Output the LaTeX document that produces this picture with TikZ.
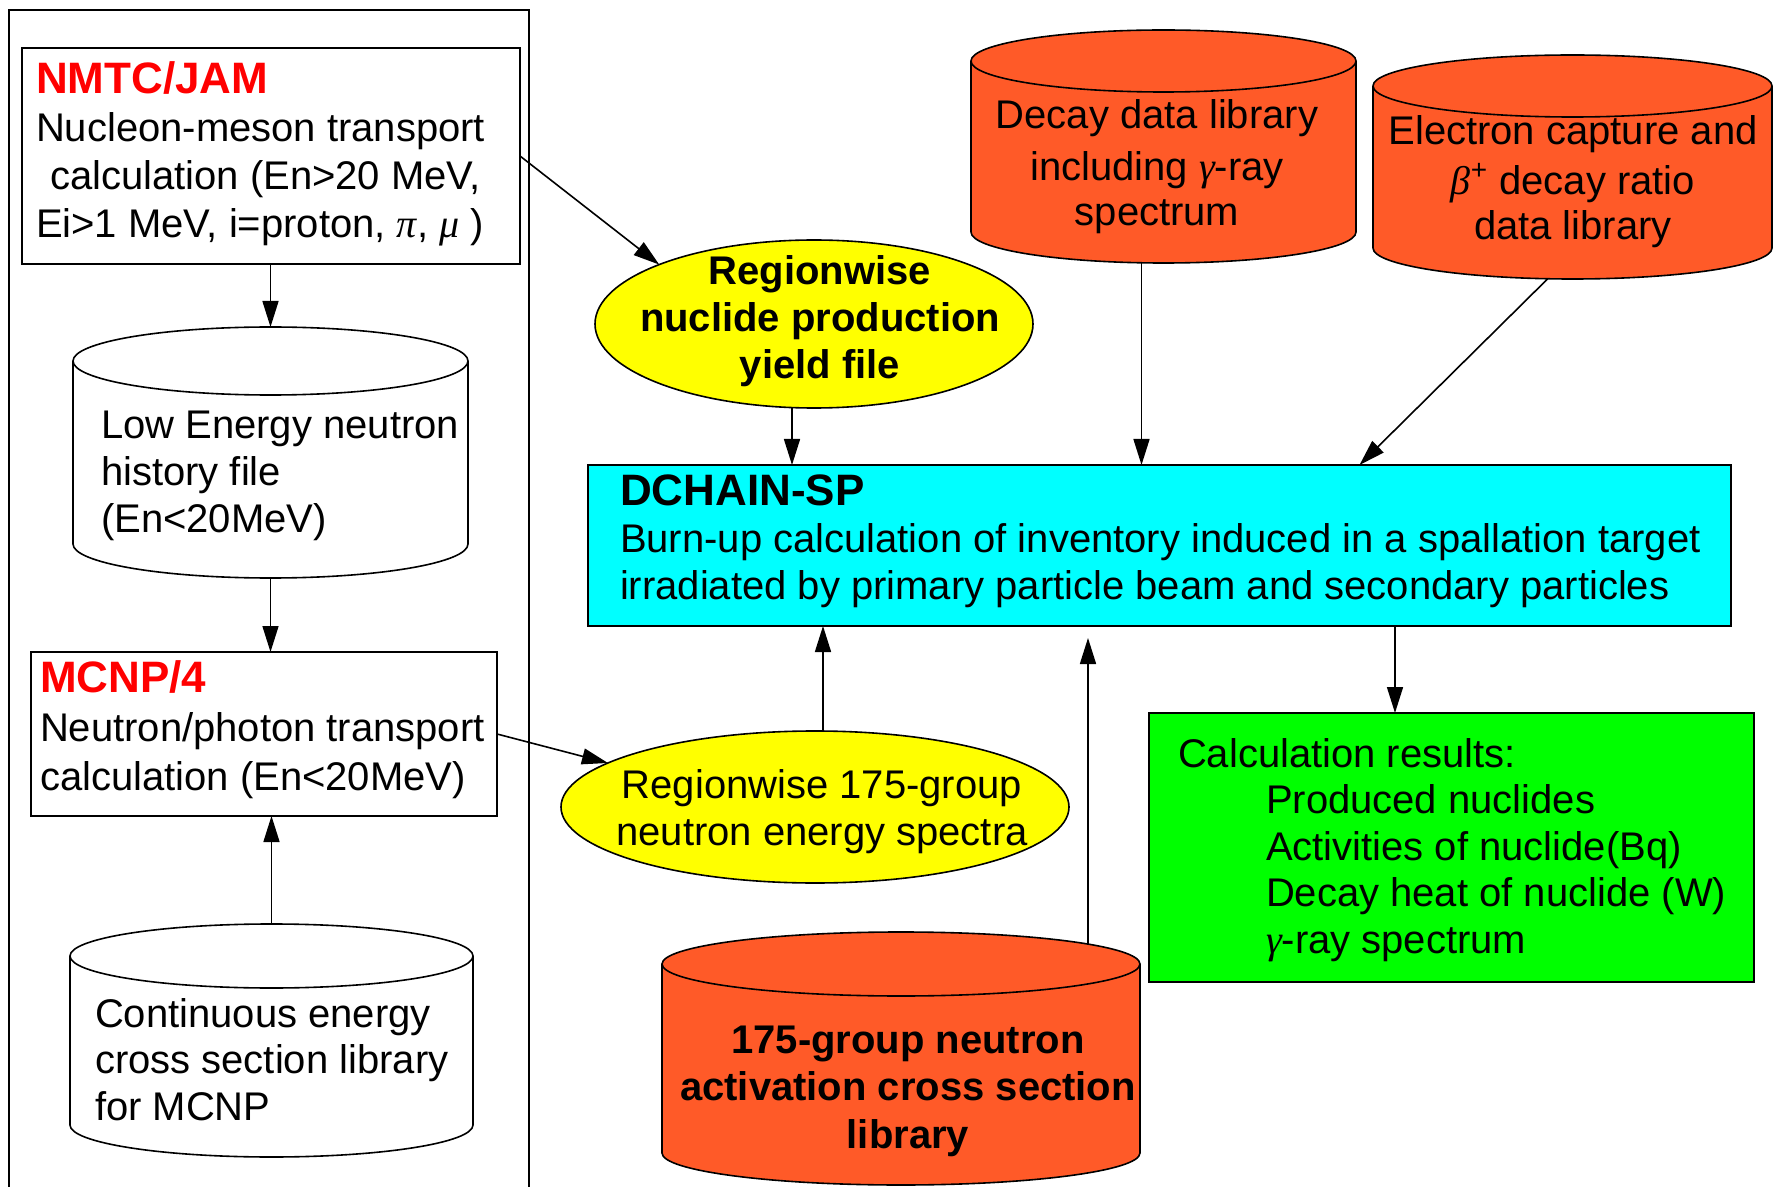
\documentclass[tikz,border=0pt]{standalone}
\usepackage{fontspec}
\setmainfont{Liberation Sans}
\newfontfamily\grkfont{Liberation Serif}
\newcommand\grk[1]{{\grkfont\itshape #1}}
\usetikzlibrary{shapes.geometric,arrows.meta,backgrounds,calc}
\definecolor{cylorange}{RGB}{255,90,40}
\definecolor{dcyan}{RGB}{0,255,255}
\definecolor{rgreen}{RGB}{0,255,0}
\definecolor{eyellow}{RGB}{255,255,0}
\definecolor{tred}{RGB}{255,0,0}
\newcommand\drawcyl[3]{%
  \path[cylline, fill=#3] let \p1=(#1.north west), \p2=(#1.south east) in
    (\x1,{\y1-#2}) -- (\x1,{\y2+#2})
    arc[start angle=180, end angle=360, x radius={(\x2-\x1)/2}, y radius=#2]
    -- (\x2,{\y1-#2})
    arc[start angle=0, end angle=180, x radius={(\x2-\x1)/2}, y radius=#2] -- cycle
    (\x1,{\y1-#2}) arc[start angle=180, end angle=360, x radius={(\x2-\x1)/2}, y radius=#2];
}
\tikzset{
  boxline/.style={draw=black, line width=0.9pt},
  arr/.style={-{Triangle[length=13pt,width=8pt]}, line width=0.8pt},
  cylline/.style={draw=black, line width=0.8pt},
  rbox/.style={rectangle, boxline, inner sep=0pt, outer sep=0pt},
  ebox/.style={ellipse, draw=black, line width=0.8pt, fill=eyellow, inner sep=0pt, outer sep=0pt},
  hold/.style={rectangle, inner sep=0pt, outer sep=0pt},
  txtl/.style={inner sep=0pt, outer sep=0pt, anchor=north west, align=left},
  txtc/.style={inner sep=0pt, outer sep=0pt, anchor=north, align=center},
}
\newcommand\ttl{\fontsize{22}{23.5}\selectfont\bfseries}
\begin{document}
\begin{tikzpicture}[x=0.5pt,y=0.5pt]
\useasboundingbox (0,0) rectangle (1773,-1187);
% frame of the left column
\draw[boxline] (9,-1190) -- (9,-10) -- (529,-10) -- (529,-1190);
% boxes
\node[rbox, minimum width=249pt, minimum height=108pt] (nmtc) at (271,-156) {};
\node[rbox, minimum width=233pt, minimum height=82pt] (mcnp) at (264,-734) {};
\node[rbox, fill=dcyan, minimum width=571.5pt, minimum height=80.5pt] (dchain) at (1159.5,-545.5) {};
\node[rbox, fill=rgreen, minimum width=302.5pt, minimum height=134.5pt] (results) at (1451.5,-847.5) {};
% ellipses
\node[ebox, minimum width=219pt, minimum height=84pt] (ell1) at (814,-324) {};
\node[ebox, minimum width=254pt, minimum height=76pt] (ell2) at (815,-807) {};
% cylinder holders
\node[hold, minimum width=197.5pt, minimum height=125.5pt] (low) at (270.5,-452.5) {};
\node[hold, minimum width=201.5pt, minimum height=116.5pt] (cont) at (271.5,-1040.5) {};
\node[hold, minimum width=192.5pt, minimum height=116.5pt] (decay) at (1163.5,-146.5) {};
\node[hold, minimum width=199.5pt, minimum height=112pt] (elec) at (1572.5,-167) {};
\node[hold, minimum width=239pt, minimum height=126.5pt] (act) at (901,-1058.5) {};
\begin{scope}[on background layer]
  \fill[white] (0,0) rectangle (1773,-1187);
  \drawcyl{low}{17pt}{white}
  \drawcyl{cont}{16pt}{white}
  \drawcyl{decay}{15.5pt}{cylorange}
  \drawcyl{elec}{15.5pt}{cylorange}
  \drawcyl{act}{16pt}{cylorange}
\end{scope}
% texts
\node[txtl, font=\fontsize{20}{24}\selectfont] (nmtctxt) at (36,-61.3)
  {{\ttl\color{tred}NMTC/JAM}\\Nucleon-meson transport\\\hspace*{7pt}calculation (En>20 MeV,\\Ei>1 MeV, i=proton, \grk{π}, \grk{μ} )};
\node[txtl, font=\fontsize{20}{24.5}\selectfont] (mcnptxt) at (40,-660.3)
  {{\ttl\color{tred}MCNP/4}\\Neutron/photon transport\\calculation (En<20MeV)};
\node[txtl, font=\fontsize{20}{23.5}\selectfont] (lowtxt) at (101,-410.5)
  {Low Energy neutron\\history file\\(En<20MeV)};
\node[txtl, font=\fontsize{20}{23.25}\selectfont] (conttxt) at (95,-998.2)
  {Continuous energy\\cross section library\\for MCNP};
\node[txtl, font=\fontsize{20}{23.5}\selectfont] (dchtxt) at (620,-474.3)
  {{\ttl DCHAIN-SP}\\Burn-up calculation of inventory induced in a spallation target\\irradiated by primary particle beam and secondary particles};
\node[txtl, font=\fontsize{20}{23.3}\selectfont] (restxt) at (1178,-738.2)
  {Calculation results:\\\hspace*{44pt}Produced nuclides\\\hspace*{44pt}Activities of nuclide(Bq)\\\hspace*{44pt}Decay heat of nuclide (W)\\\hspace*{44pt}\grk{γ}-ray spectrum};
\node[txtc, font=\fontsize{20}{23.5}\selectfont\bfseries] (e1txt) at (820,-255.2)
  {Regionwise\\nuclide production\\yield file};
\node[txtc, font=\fontsize{20}{23.75}\selectfont] (e2txt) at (822,-769.2)
  {Regionwise 175-group\\neutron energy spectra};
\node[txtc, font=\fontsize{20}{22.5}\selectfont] (dectxt) at (1157,-99.2)
  {Decay data library\\[3.5pt]including \grk{γ}-ray\\spectrum};
\node[txtc, font=\fontsize{20}{22.5}\selectfont] (eletxt) at (1573,-115.5)
  {Electron capture and\\[2.5pt]\grk{β}\textsuperscript{+} decay ratio\\data library};
\node[txtc, font=\fontsize{20}{23.75}\selectfont\bfseries] (acttxt) at (908,-1025.5)
  {175-group neutron\\activation cross section\\library};
% connectors
\draw[arr] (low.north |- nmtc.south) -- (low.north);
\draw[arr] (low.south) -- (low.south |- mcnp.north);
\draw[arr] (cont.north) -- (cont.north |- mcnp.south);
\draw[arr] (nmtc.east) -- (ell1.159);
\draw[arr] (mcnp.east) -- (ell2.168);
\draw[arr] ([xshift=-11pt]ell1.south) -- ([xshift=-11pt]ell1.south |- dchain.north);
\draw[arr] ([xshift=-11pt]decay.south) -- ([xshift=-11pt]decay.south |- dchain.north);
\draw[arr] ([xshift=-12.5pt]elec.south) -- ([xshift=100pt]dchain.north);
\draw[arr] ([xshift=117.75pt]dchain.south) -- ([xshift=117.75pt]dchain.south |- results.north);
\draw[arr] ([xshift=4pt]ell2.north) -- ([xshift=4pt]ell2.north |- dchain.south);
\draw[arr] ([xshift=93.5pt,yshift=-6pt]act.north) -- ([xshift=93.5pt,yshift=-6pt]act.north |- dchain.south);
\end{tikzpicture}
\end{document}
